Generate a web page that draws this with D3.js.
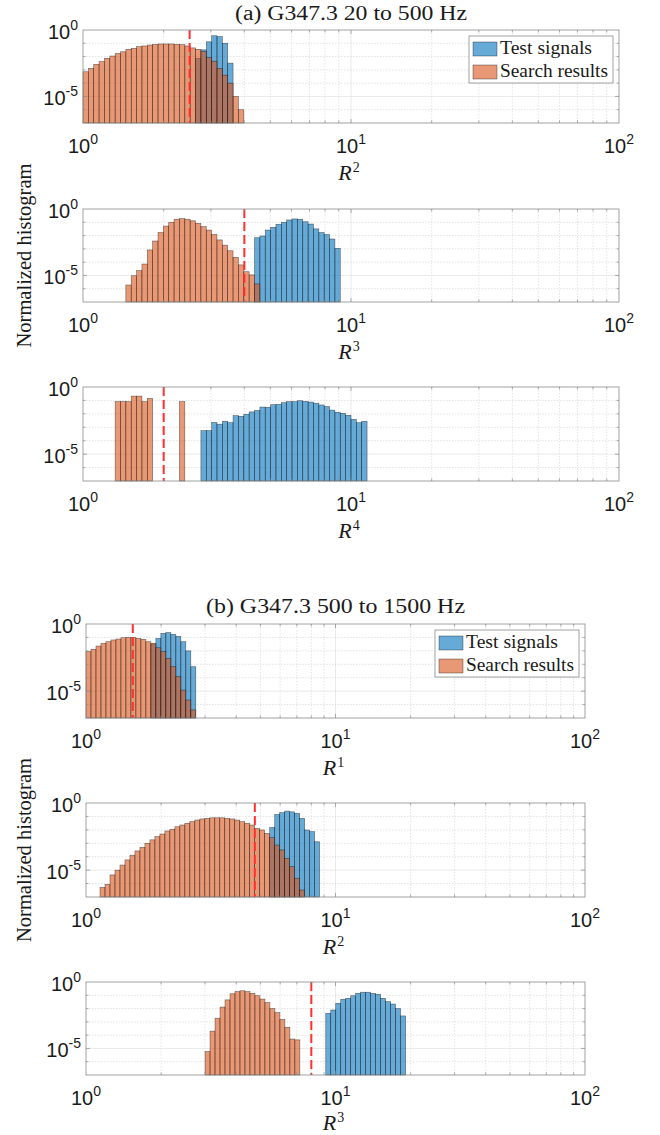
<!DOCTYPE html>
<html>
<head>
<meta charset="utf-8">
<script src="https://cdn.jsdelivr.net/npm/d3@7"></script>
<style>
  body { margin: 0; background: #fff; }
  text { fill: #1a1a1a; }
</style>
</head>
<body>
<svg id="chart" width="660" height="1135"></svg>
<script>
// every histogram uses bins of equal width in log10(R)
const BIN_LOG = 0.02;

// ---- (a) G347.3 20 to 500 Hz ----
const A_R2_SEARCH_LO = 1.0;
const A_R2_SEARCH = [7.2e-4, 1.3e-3, 2.6e-3, 4.2e-3, 7.4e-3, 1.1e-2, 1.7e-2, 2.3e-2, 3.5e-2, 4.2e-2,
  5.6e-2, 6.3e-2, 7.4e-2, 8.3e-2, 8.9e-2, 8.9e-2, 8.9e-2, 8.3e-2, 7.9e-2, 6.3e-2,
  4.5e-2, 3.5e-2, 2.5e-2, 8.3e-3, 4.5e-3, 1.3e-3, 4.0e-4, 1.0e-4, 1.0e-5, 1.0e-6];
const A_R2_TEST_LO = 2.63;
const A_R2_TEST = [7.4e-3, 3.2e-2, 0.13, 0.37, 0.32, 0.10, 3.2e-3];

const A_R3_SEARCH_LO = 1.445;
const A_R3_SEARCH = [1.9e-6, 9.5e-6, 2.3e-5, 7.2e-5, 8.3e-4, 3.9e-3, 1.7e-2, 5.2e-2, 0.10, 0.17,
  0.19, 0.17, 0.13, 8.3e-2, 4.7e-2, 2.6e-2, 1.2e-2, 4.7e-3, 1.9e-3, 7.2e-4,
  2.3e-4, 6.2e-5, 1.9e-5, 1.1e-5, 2.3e-6];
const A_R3_TEST_LO = 4.365;
const A_R3_TEST = [6.9e-3, 9.3e-3, 2.6e-2, 4.2e-2, 7.1e-2, 0.10, 0.15, 0.18, 0.17, 0.11,
  7.4e-2, 3.2e-2, 1.7e-2, 1.2e-2, 5.5e-3, 1.1e-3];

const A_R4_SEARCH_LO = 1.318;
const A_R4_SEARCH = [8.1e-2, 8.1e-2, 8.1e-2, 0.21, 0.21, 8.1e-2, 0.14, 0, 0, 0, 0, 0, 8.1e-2];
const A_R4_TEST_LO = 2.754;
const A_R4_TEST = [5.6e-4, 5.6e-4, 2.3e-3, 1.7e-3, 2.8e-3, 2.2e-3, 7.4e-3, 6.6e-3, 9.3e-3, 1.4e-2,
  1.8e-2, 3.2e-2, 3.1e-2, 4.8e-2, 5.1e-2, 6.8e-2, 8.1e-2, 8.1e-2, 9.5e-2, 8.5e-2,
  7.6e-2, 6.2e-2, 4.6e-2, 3.5e-2, 1.9e-2, 1.3e-2, 1.1e-2, 7.8e-3, 3.9e-3, 2.2e-3, 2.8e-3];

const THRESHOLDS_A = [2.5, 4.0, 2.0];

// ---- (b) G347.3 500 to 1500 Hz ----
const B_R1_SEARCH_LO = 1.0;
const B_R1_SEARCH = [8.7e-3, 1.3e-2, 2.3e-2, 3.6e-2, 4.8e-2, 6.5e-2, 7.6e-2, 9.5e-2, 0.10, 0.10,
  8.5e-2, 7.2e-2, 4.8e-2, 3.6e-2, 1.7e-2, 8.7e-3, 2.8e-3, 6.6e-4, 1.2e-4, 1.2e-5,
  2.2e-6, 4.0e-7];
const B_R1_TEST_LO = 1.82;
const B_R1_TEST = [3.2e-2, 8.5e-2, 0.20, 0.23, 0.17, 0.12, 4.8e-2, 1.0e-2, 6.6e-4];

const B_R2_SEARCH_LO = 1.138;
const B_R2_SEARCH = [5.2e-7, 8.7e-7, 4.4e-6, 1.0e-5, 2.4e-5, 5.8e-5, 1.3e-4, 2.7e-4, 5.0e-4, 1.0e-3,
  1.8e-3, 3.1e-3, 4.9e-3, 8.3e-3, 1.1e-2, 1.7e-2, 2.3e-2, 3.1e-2, 4.1e-2, 5.4e-2,
  6.5e-2, 7.2e-2, 7.9e-2, 7.9e-2, 7.9e-2, 7.2e-2, 6.5e-2, 5.4e-2, 4.1e-2, 3.1e-2,
  2.3e-2, 1.3e-2, 9.8e-3, 5.5e-3, 2.6e-3, 7.4e-4, 3.2e-4, 7.6e-5, 1.8e-5, 2.5e-6, 3.3e-7];
const B_R2_TEST_LO = 5.45;
const B_R2_TEST = [1.5e-2, 0.14, 0.19, 0.25, 0.22, 0.17, 7.2e-2, 9.8e-3, 7.4e-3, 1.3e-3];

const B_R3_SEARCH_LO = 3.0;
const B_R3_SEARCH = [5.8e-6, 2.0e-4, 1.9e-3, 1.3e-2, 4.5e-2, 0.13, 0.19, 0.22, 0.19, 0.14,
  9.3e-2, 5.2e-2, 2.8e-2, 1.0e-2, 4.9e-3, 1.5e-3, 3.9e-4, 5.1e-5, 4.4e-5];
const B_R3_TEST_LO = 9.14;
const B_R3_TEST = [4.4e-3, 7.8e-3, 2.5e-2, 5.0e-2, 5.9e-2, 9.3e-2, 0.14, 0.17, 0.17, 0.14,
  0.12, 5.9e-2, 3.3e-2, 2.2e-2, 1.0e-2, 2.8e-3];

const THRESHOLDS_B = [1.54, 4.75, 8.0];

const TITLES = ["(a) G347.3 20 to 500 Hz", "(b) G347.3 500 to 1500 Hz"];
const LEGEND = ["Test signals", "Search results"];
const X_TICKS = [1, 10, 100];
const Y_TICKS = [1, 1e-5];

// colours (MATLAB defaults, face alpha 0.6)
const TEST_COLOR = "#0072BD";
const SEARCH_COLOR = "#D95319";
const AXIS_GRAY = "#8a8a8a";
const SERIF = "'Liberation Serif', serif";

const svg = d3.select("#chart");

const groups = [
  { title: TITLES[0], titleW: 232, x0: 83, x1: 619, titleY: 20,
    panels: [
      { top: 30, bottom: 123, pow: "2", test: [A_R2_TEST_LO, A_R2_TEST], search: [A_R2_SEARCH_LO, A_R2_SEARCH], thr: THRESHOLDS_A[0] },
      { top: 209, bottom: 302, pow: "3", test: [A_R3_TEST_LO, A_R3_TEST], search: [A_R3_SEARCH_LO, A_R3_SEARCH], thr: THRESHOLDS_A[1] },
      { top: 387, bottom: 481, pow: "4", test: [A_R4_TEST_LO, A_R4_TEST], search: [A_R4_SEARCH_LO, A_R4_SEARCH], thr: THRESHOLDS_A[2] }
    ] },
  { title: TITLES[1], titleW: 259, x0: 86, x1: 585, titleY: 613,
    panels: [
      { top: 624, bottom: 718, pow: "1", test: [B_R1_TEST_LO, B_R1_TEST], search: [B_R1_SEARCH_LO, B_R1_SEARCH], thr: THRESHOLDS_B[0] },
      { top: 803, bottom: 897, pow: "2", test: [B_R2_TEST_LO, B_R2_TEST], search: [B_R2_SEARCH_LO, B_R2_SEARCH], thr: THRESHOLDS_B[1] },
      { top: 982, bottom: 1075, pow: "3", test: [B_R3_TEST_LO, B_R3_TEST], search: [B_R3_SEARCH_LO, B_R3_SEARCH], thr: THRESHOLDS_B[2] }
    ] }
];

// turn a lower edge + counts into bars
function toBins(lo, vals) {
  return vals.map((v, i) => ({
    a: lo * Math.pow(10, i * BIN_LOG),
    b: lo * Math.pow(10, (i + 1) * BIN_LOG),
    v: v
  })).filter(d => d.v > 0);
}

function powLabel(sel, base, exp, sizeBase, sizeExp) {
  sel.append("tspan").text(base).style("font-size", sizeBase + "px");
  sel.append("tspan").text(exp).style("font-size", sizeExp + "px").attr("dy", -sizeBase * 0.45);
}

groups.forEach(function(grp) {
  // title
  svg.append("text")
    .attr("x", (grp.x0 + grp.x1) / 2)
    .attr("y", grp.titleY)
    .attr("text-anchor", "middle")
    .attr("textLength", grp.titleW)
    .attr("lengthAdjust", "spacingAndGlyphs")
    .style("font-family", SERIF)
    .style("font-size", "20px")
    .text(grp.title);

  grp.panels.forEach(function(p, pi) {
    const x = d3.scaleLog().domain([1, 100]).range([grp.x0, grp.x1]);
    const y = d3.scaleLog().domain([1e-7, 1]).range([p.bottom, p.top]);
    const g = svg.append("g");

    // grid
    const minorX = [];
    [1, 10].forEach(dec => { for (let m = 2; m <= 9; m++) minorX.push(dec * m); });
    g.selectAll("line.gxm").data(minorX).join("line")
      .attr("x1", d => x(d)).attr("x2", d => x(d))
      .attr("y1", p.top).attr("y2", p.bottom)
      .attr("stroke", "#d4d4d4").attr("stroke-width", 0.6).attr("stroke-dasharray", "1.5,1.5");
    g.append("line")
      .attr("x1", x(10)).attr("x2", x(10)).attr("y1", p.top).attr("y2", p.bottom)
      .attr("stroke", "#e0e0e0").attr("stroke-width", 0.7);
    const decY = d3.range(-6, 0).map(e => Math.pow(10, e));
    g.selectAll("line.gy").data(decY).join("line")
      .attr("x1", grp.x0).attr("x2", grp.x1)
      .attr("y1", d => y(d)).attr("y2", d => y(d))
      .attr("stroke", d => d === 1e-5 ? "#e0e0e0" : "#d4d4d4")
      .attr("stroke-width", 0.7)
      .attr("stroke-dasharray", d => d === 1e-5 ? null : "1.5,1.5");

    // histograms: test signals first, search results over them
    [[p.test, TEST_COLOR], [p.search, SEARCH_COLOR]].forEach(function(s) {
      g.append("g").selectAll("rect")
        .data(toBins(s[0][0], s[0][1]))
        .join("rect")
        .attr("x", d => x(d.a))
        .attr("width", d => x(d.b) - x(d.a))
        .attr("y", d => y(d.v))
        .attr("height", d => p.bottom - y(d.v))
        .attr("fill", s[1]).attr("fill-opacity", 0.6)
        .attr("stroke", "#000").attr("stroke-opacity", 0.55).attr("stroke-width", 0.6);
    });

    // threshold
    g.append("line")
      .attr("x1", x(p.thr)).attr("x2", x(p.thr))
      .attr("y1", p.top).attr("y2", p.bottom)
      .attr("stroke", "#ff3030").attr("stroke-width", 2)
      .attr("stroke-dasharray", "9,4");

    // box + inner ticks
    g.append("rect")
      .attr("x", grp.x0).attr("y", p.top)
      .attr("width", grp.x1 - grp.x0).attr("height", p.bottom - p.top)
      .attr("fill", "none").attr("stroke", AXIS_GRAY).attr("stroke-width", 0.8);
    const allX = minorX.concat([10]);
    g.selectAll("path.tx").data(allX).join("path")
      .attr("d", d => `M${x(d)},${p.bottom}v-${d === 10 ? 4 : 2.5}M${x(d)},${p.top}v${d === 10 ? 4 : 2.5}`)
      .attr("stroke", AXIS_GRAY).attr("stroke-width", 0.7);
    g.selectAll("path.ty").data(decY).join("path")
      .attr("d", d => `M${grp.x0},${y(d)}h${d === 1e-5 ? 4 : 2.5}M${grp.x1},${y(d)}h-${d === 1e-5 ? 4 : 2.5}`)
      .attr("stroke", AXIS_GRAY).attr("stroke-width", 0.7);

    // tick labels
    X_TICKS.forEach(function(t) {
      const lab = g.append("text")
        .attr("x", x(t)).attr("y", p.bottom + 30)
        .attr("text-anchor", "middle")
        .style("font-family", "'Liberation Sans', sans-serif");
      powLabel(lab, "10", String(Math.round(Math.log10(t))), 20, 14);
    });
    Y_TICKS.forEach(function(t) {
      const lab = g.append("text")
        .attr("x", grp.x0 - 5).attr("y", y(t) + 9)
        .attr("text-anchor", "end")
        .style("font-family", "'Liberation Sans', sans-serif");
      powLabel(lab, "10", t === 1 ? "0" : "-5", 20, 14);
    });

    // x label
    const xl = g.append("text")
      .attr("x", x(10) - 2).attr("y", Math.min(p.bottom + 57, 1130))
      .attr("text-anchor", "middle")
      .style("font-family", SERIF);
    xl.append("tspan").text("R").style("font-style", "italic").style("font-size", "22px");
    xl.append("tspan").text(p.pow).style("font-size", "14px").attr("dy", -8).attr("dx", 1);

    // legend on the first panel of each group
    if (pi === 0) {
      const lw = 144, lh = 47;
      const lx = grp.x1 - 6 - lw, ly = p.top + 6;
      const lg = g.append("g").attr("transform", `translate(${lx},${ly})`);
      lg.append("rect").attr("width", lw).attr("height", lh)
        .attr("fill", "#fff").attr("stroke", AXIS_GRAY).attr("stroke-width", 0.8);
      [TEST_COLOR, SEARCH_COLOR].forEach(function(c, i) {
        lg.append("rect")
          .attr("x", 4).attr("y", 6 + i * 23).attr("width", 24).attr("height", 14)
          .attr("fill", c).attr("fill-opacity", 0.6)
          .attr("stroke", "#000").attr("stroke-opacity", 0.55).attr("stroke-width", 0.6);
        lg.append("text")
          .attr("x", 31).attr("y", 18 + i * 23)
          .attr("textLength", i === 0 ? 92 : 108)
          .attr("lengthAdjust", "spacingAndGlyphs")
          .style("font-family", SERIF)
          .style("font-size", "19px")
          .text(LEGEND[i]);
      });
    }

    // y label on middle panel
    if (pi === 1) {
      const cy = (p.top + p.bottom) / 2;
      g.append("text")
        .attr("transform", `translate(31,${cy}) rotate(-90)`)
        .attr("text-anchor", "middle")
        .attr("textLength", 184)
        .attr("lengthAdjust", "spacingAndGlyphs")
        .style("font-family", SERIF)
        .style("font-size", "20px")
        .text("Normalized histogram");
    }
  });
});
</script>
</body>
</html>
